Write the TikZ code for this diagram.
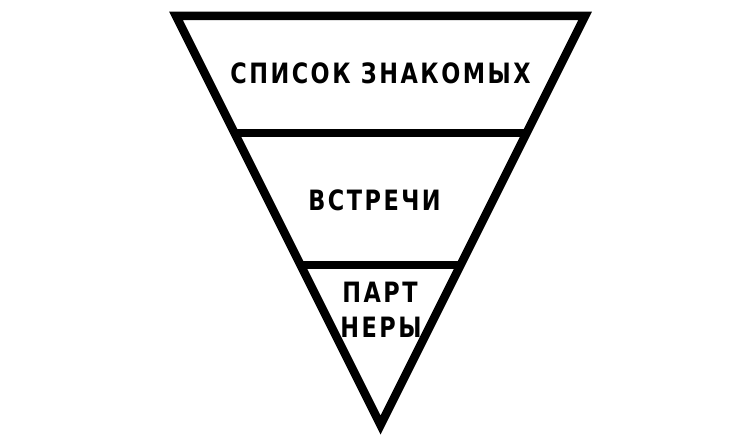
\documentclass[tikz,border=0pt]{standalone}
\usepackage{fontspec}
\newfontfamily\lbl{DejaVu Sans}[FakeStretch=0.8,LetterSpace=9]
\begin{document}
\begin{tikzpicture}[x=1pt,y=-1pt,
  edge/.style={line width=8.5pt,line join=miter,black},
  lab/.style={font=\lbl\bfseries\fontsize{28}{32}\selectfont,inner sep=0pt,align=center}]
\useasboundingbox (0,0) rectangle (750,446);
\coordinate (tl) at (176,16);
\coordinate (tr) at (585,16);
\coordinate (ap) at (380.5,425);
\coordinate (ml) at (234.5,133);
\coordinate (mr) at (526.5,133);
\coordinate (ll) at (300.5,265);
\coordinate (lr) at (460.5,265);
\draw[edge] (tl) -- (tr) -- (ap) -- cycle;
\draw[edge] (ml) -- (mr);
\draw[edge] (ll) -- (lr);
\node[lab] (a) at (380.5,73) {СПИСОК ЗНАКОМЫХ};
\node[lab] (b) at (374.5,200) {ВСТРЕЧИ};
\node[lab] (c) at (380,292.5) {ПАРТ};
\node[lab] (d) at (381,327.5) {НЕРЫ};
\end{tikzpicture}
\end{document}
